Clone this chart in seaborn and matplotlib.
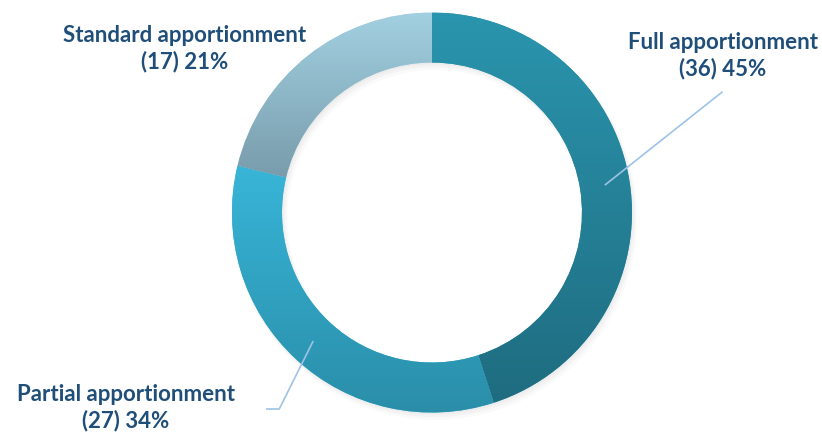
import numpy as np
import matplotlib
matplotlib.use('Agg')
import matplotlib.pyplot as plt
import matplotlib.colors as mcolors
import seaborn as sns

# --- data ---
categories = ['Full apportionment', 'Partial apportionment', 'Standard apportionment']
counts = [36, 27, 17]
percents = [45, 34, 21]

# vertical gradient (top colour, bottom colour) per slice
grad_top = ['#2a95ae', '#38b5d8', '#a2d0e1']
grad_bottom = ['#1f6c80', '#2a8ea9', '#789cab']

sns.set_theme(style='white')
plt.rcParams['font.family'] = ['Lato', 'DejaVu Sans']

TEXT_COLOR = '#1f4e79'
LINE_COLOR = '#9dc3e6'

fig = plt.figure(figsize=(8.22, 4.35), dpi=100)
ax = fig.add_axes([0.2822, 0.0494, 0.4866, 0.9195])

# soft drop shadow under the ring
for k, a in enumerate([0.05, 0.05, 0.04]):
    off = 0.006 * (k + 1)
    ax.pie([1], radius=1.0 + 0.004 * k, center=(off, -off * 1.6),
           colors=['#808080'], wedgeprops=dict(width=0.25 + 0.008 * k, edgecolor='none', alpha=a))

wedges, _ = ax.pie(counts, startangle=90, counterclock=False, radius=1.0,
                   colors=grad_top, wedgeprops=dict(width=0.25, edgecolor='none'))

# gradient fill clipped to each wedge
for w, ct, cb in zip(wedges, grad_top, grad_bottom):
    bb = w.get_path().get_extents()
    c0 = np.array(mcolors.to_rgb(ct))
    c1 = np.array(mcolors.to_rgb(cb))
    t = np.linspace(0, 1, 256)[:, None]
    img = (c0 * (1 - t) + c1 * t)[:, None, :]
    im = ax.imshow(img, extent=[bb.x0, bb.x1, bb.y0, bb.y1], origin='upper',
                   aspect='auto', interpolation='bilinear', zorder=w.get_zorder() + 0.1)
    im.set_clip_path(w)

ax.set_xlim(-1, 1)
ax.set_ylim(-1, 1)
ax.set_aspect('equal')
ax.axis('off')

# labels
label_pos = [(1.455, 0.79), (-1.53, -0.9725), (-1.235, 0.8225)]
for name, n, p, (x, y) in zip(categories, counts, percents, label_pos):
    ax.text(x, y, f'{name}\n({n}) {p}%', ha='center', va='center',
            fontsize=16, fontweight='bold', color=TEXT_COLOR,
            linespacing=1.25, multialignment='center')

# leader lines from the middle of the ring
def mid_point(w, r=0.875):
    ang = np.deg2rad((w.theta1 + w.theta2) / 2)
    return r * np.cos(ang), r * np.sin(ang)

fx, fy = mid_point(wedges[0])
ax.plot([fx, 1.453], [fy, 0.604], color=LINE_COLOR, lw=1.2,
        solid_capstyle='butt', clip_on=False)
px, py = mid_point(wedges[1])
ax.plot([px, -0.7635, -0.83], [py, -0.9825, -0.9825], color=LINE_COLOR, lw=1.2,
        solid_capstyle='butt', clip_on=False)

fig.savefig('out.png', dpi=100)
